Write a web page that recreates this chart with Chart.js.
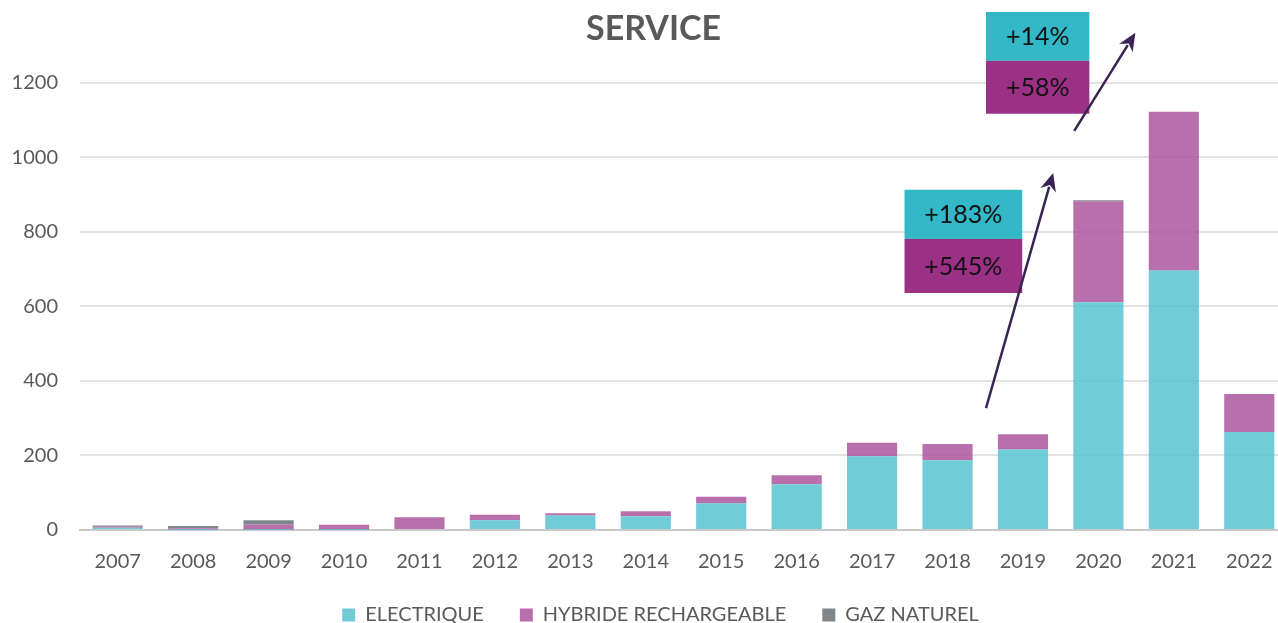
<!DOCTYPE html>
<html>
<head>
<meta charset="utf-8">
<script src="https://cdn.jsdelivr.net/npm/chart.js@4.4.0/dist/chart.umd.min.js"></script>
<style>
  html, body { margin: 0; padding: 0; background: #fff; overflow: hidden; }
  #wrap { width: 1287px; height: 635px; position: relative; }
</style>
</head>
<body>
<div id="wrap"><canvas id="chart"></canvas></div>
<script>
/* ── Data ── */
const years      = ['2007','2008','2009','2010','2011','2012','2013','2014','2015','2016','2017','2018','2019','2020','2021','2022'];
const electrique = [6, 1, 1, 1, 3, 26, 39, 37, 72, 123, 198, 187, 216, 611, 696, 263];
const hybride    = [3, 4, 14, 13, 31, 15, 6, 13, 17, 24, 36, 44, 41, 271, 426, 102];
const gaz        = [3, 6, 11, 0, 0, 0, 0, 0, 0, 0, 0, 0, 0, 3, 0, 0];
const yTicks     = [0, 200, 400, 600, 800, 1000, 1200];

// growth boxes: [x from, x to] in category index, [top, middle, bottom] in value
const boxes = [
  { x: [10.43, 11.99], y: [913, 781, 636], top: '+183%', bottom: '+545%' },
  { x: [11.51, 12.88], y: [1390, 1259, 1117], top: '+14%', bottom: '+58%' }
];
// arrows: [x0, y0, x1, y1] in index / value
const arrows = [
  [11.51, 327, 12.40, 958],
  [12.68, 1071, 13.49, 1334]
];

const FONT = 'Lato, "Open Sans", sans-serif';
const TXT  = '#595959';

/* ── Nudge title / legend to the right like the original ── */
const nudgePlugin = {
  id: 'nudge',
  afterLayout(chart) {
    if (chart.titleBlock) { chart.titleBlock.left += 6; chart.titleBlock.right += 6; }
    if (chart.legend) { chart.legend.left += 13; chart.legend.right += 13; }
  }
};

/* ── Annotation plugin ── */
const growthPlugin = {
  id: 'growth',
  afterDraw(chart) {
    const { ctx, scales: { x, y } } = chart;
    ctx.save();
    boxes.forEach(b => {
      const x0 = x.getPixelForValue(b.x[0]), x1 = x.getPixelForValue(b.x[1]);
      const yt = y.getPixelForValue(b.y[0]), ym = y.getPixelForValue(b.y[1]), yb = y.getPixelForValue(b.y[2]);
      ctx.fillStyle = '#32B8C6'; ctx.fillRect(x0, yt, x1 - x0, ym - yt);
      ctx.fillStyle = '#9B3185'; ctx.fillRect(x0, ym, x1 - x0, yb - ym);
      ctx.fillStyle = '#111'; ctx.font = '25px ' + FONT;
      ctx.textAlign = 'center'; ctx.textBaseline = 'middle';
      ctx.fillText(b.top, (x0 + x1) / 2, (yt + ym) / 2 + 1);
      ctx.fillText(b.bottom, (x0 + x1) / 2, (ym + yb) / 2 + 1);
    });
    arrows.forEach(a => {
      const px0 = x.getPixelForValue(a[0]), py0 = y.getPixelForValue(a[1]);
      const px1 = x.getPixelForValue(a[2]), py1 = y.getPixelForValue(a[3]);
      const ang = Math.atan2(py1 - py0, px1 - px0), hl = 18, hw = 8;
      ctx.strokeStyle = ctx.fillStyle = '#3B2354'; ctx.lineWidth = 2.5;
      ctx.beginPath(); ctx.moveTo(px0, py0);
      ctx.lineTo(px1 - Math.cos(ang) * hl * 0.8, py1 - Math.sin(ang) * hl * 0.8); ctx.stroke();
      ctx.beginPath(); ctx.moveTo(px1, py1);
      ctx.lineTo(px1 - Math.cos(ang) * hl - Math.sin(ang) * hw, py1 - Math.sin(ang) * hl + Math.cos(ang) * hw);
      ctx.lineTo(px1 - Math.cos(ang) * hl * 0.7, py1 - Math.sin(ang) * hl * 0.7);
      ctx.lineTo(px1 - Math.cos(ang) * hl + Math.sin(ang) * hw, py1 - Math.sin(ang) * hl - Math.cos(ang) * hw);
      ctx.closePath(); ctx.fill();
    });
    ctx.restore();
  }
};

/* ── Chart ── */
new Chart(document.getElementById('chart'), {
  type: 'bar',
  data: {
    labels: years,
    datasets: [
      { label: 'ELECTRIQUE', data: electrique, backgroundColor: 'rgba(87,196,208,0.85)' },
      { label: 'HYBRIDE RECHARGEABLE', data: hybride, backgroundColor: 'rgba(171,87,157,0.85)' },
      { label: 'GAZ NATUREL', data: gaz, backgroundColor: 'rgba(104,113,120,0.85)' }
    ]
  },
  options: {
    responsive: true, maintainAspectRatio: false, animation: false,
    datasets: { bar: { categoryPercentage: 1, barPercentage: 0.665 } },
    layout: { padding: { left: 8, right: 0, top: 0, bottom: 0 } },
    plugins: {
      title: { display: true, text: 'SERVICE', color: TXT, font: { family: FONT, size: 34, weight: 'bold' }, padding: { top: 9, bottom: 33 } },
      legend: {
        position: 'bottom',
        labels: { color: TXT, font: { family: FONT, size: 20 }, boxWidth: 13, boxHeight: 13, padding: 36 }
      },
      tooltip: { enabled: false }
    },
    scales: {
      x: {
        stacked: true,
        afterFit: s => { s.height = 39; },
        grid: { display: false, drawTicks: true, tickLength: 22 },
        border: { color: '#c8c8c8', width: 2 },
        ticks: { color: TXT, font: { family: FONT, size: 20, lineHeight: 1 }, padding: 0 }
      },
      y: {
        stacked: true, min: 0, max: 1200,
        afterBuildTicks: s => { s.ticks = yTicks.map(v => ({ value: v })); },
        afterFit: s => { s.width = 72; },
        grid: { color: '#e2e2e2', lineWidth: 2, drawTicks: false },
        border: { display: false },
        ticks: { color: TXT, font: { family: FONT, size: 20 }, padding: 22, callback: v => String(v) }
      }
    }
  },
  plugins: [nudgePlugin, growthPlugin]
});
</script>
</body>
</html>
